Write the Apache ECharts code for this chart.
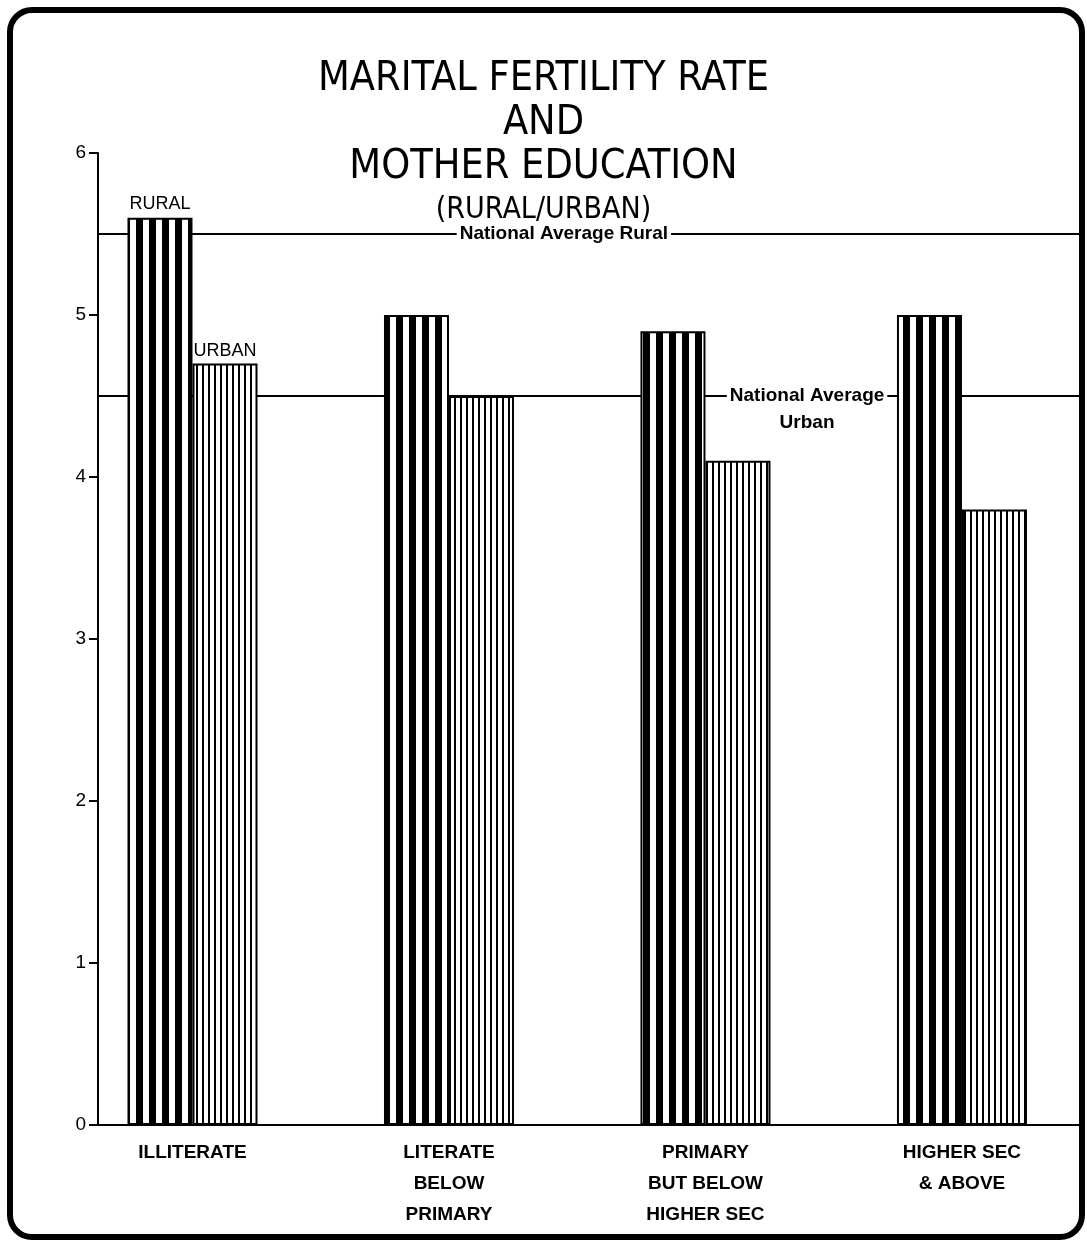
<!DOCTYPE html>
<html><head><meta charset="utf-8">
<script src="https://cdn.jsdelivr.net/npm/echarts@6/dist/echarts.min.js"></script>
<style>html,body{margin:0;padding:0;background:#fff;}#c{width:1087px;height:1244px;}</style>
</head><body><div id="c"></div>
<script>
// ---- data ----
const categories = ['ILLITERATE', 'LITERATE\nBELOW\nPRIMARY', 'PRIMARY\nBUT BELOW\nHIGHER SEC', 'HIGHER SEC\n& ABOVE'];
const categoryIndex = [0, 1, 2, 3];
const rural = [5.6, 5.0, 4.9, 5.0];
const urban = [4.7, 4.5, 4.1, 3.8];
const nationalAverageRural = 5.5;
const nationalAverageUrban = 4.5;
const yTickLabels = ['0', '1', '2', '3', '4', '5', '6'];

function stripes(period, black) {
  const c = document.createElement('canvas');
  c.width = period; c.height = 4;
  const g = c.getContext('2d');
  g.fillStyle = '#fff'; g.fillRect(0, 0, period, 4);
  g.fillStyle = '#000'; g.fillRect(period - black, 0, black, 4);
  return c;
}
const ruralPattern = { image: stripes(13, 7), repeat: 'repeat' };
const urbanPattern = { image: stripes(6, 2), repeat: 'repeat' };

const FONT = "'Liberation Sans', Arial, sans-serif";
const TITLE_FONT = "'Liberation Sans Narrow', 'DejaVu Sans Condensed', 'Liberation Sans', sans-serif";

const chart = echarts.init(document.getElementById('c'), null, { renderer: 'canvas' });
const option = {
  backgroundColor: '#fff',
  animation: false,
  title: [
    {
      text: 'MARITAL FERTILITY RATE\nAND\nMOTHER EDUCATION',
      left: 'center', top: 52,
      textStyle: { fontFamily: TITLE_FONT, fontSize: 41, fontWeight: 'normal', color: '#000', lineHeight: 44, align: 'center' }
    },
    {
      text: '(RURAL/URBAN)',
      left: 'center', top: 190,
      textStyle: { fontFamily: TITLE_FONT, fontSize: 30, fontWeight: 'normal', color: '#000' }
    }
  ],
  grid: { left: 98, right: 5, top: 153, bottom: 119, containLabel: false },
  xAxis: {
    type: 'value',
    min: -0.3684, max: 3.468,
    axisLine: { show: true, onZero: false, lineStyle: { color: '#000', width: 2 } },
    axisTick: { show: false },
    splitLine: { show: false },
    axisLabel: {
      customValues: categoryIndex,
      formatter: v => categories[Math.round(v)],
      fontFamily: FONT, fontSize: 19, fontWeight: 'bold', lineHeight: 31, color: '#000', margin: 12, align: 'center'
    }
  },
  yAxis: {
    type: 'value', min: 0, max: 6, interval: 1,
    axisLine: { show: true, onZero: false, lineStyle: { color: '#000', width: 2 } },
    axisTick: { show: true, length: 9, lineStyle: { color: '#000', width: 2 } },
    splitLine: { show: false },
    axisLabel: { fontFamily: FONT, fontSize: 19, color: '#000', margin: 12, formatter: v => yTickLabels[v] }
  },
  series: [
    {
      name: 'Rural', type: 'bar', z: 3,
      barWidth: 65, barGap: '0%',
      itemStyle: { color: ruralPattern, borderColor: '#000', borderWidth: 2 },
      data: rural.map((v, i) => i === 0
        ? { value: [categoryIndex[i], v], label: { show: true, position: 'top', formatter: 'RURAL', distance: 5, fontFamily: FONT, fontSize: 18, color: '#000' } }
        : { value: [categoryIndex[i], v] })
    },
    {
      name: 'Urban', type: 'bar', z: 3,
      barWidth: 65, barGap: '0%',
      itemStyle: { color: urbanPattern, borderColor: '#000', borderWidth: 2 },
      data: urban.map((v, i) => i === 0
        ? { value: [categoryIndex[i], v], label: { show: true, position: 'top', formatter: 'URBAN', distance: 4, fontFamily: FONT, fontSize: 18, color: '#000' } }
        : { value: [categoryIndex[i], v] })
    },
    {
      name: 'National averages', type: 'scatter', z: 1, data: [],
      markLine: {
        z: 1, silent: true, symbol: 'none', animation: false,
        lineStyle: { color: '#000', width: 2, type: 'solid' },
        label: { show: false },
        data: [{ yAxis: nationalAverageRural }, { yAxis: nationalAverageUrban }]
      },
      markPoint: {
        z: 4, silent: true, symbol: 'rect', symbolSize: 1, animation: false,
        itemStyle: { color: 'rgba(0,0,0,0)' },
        label: { show: true, position: 'inside', fontFamily: FONT, fontSize: 19, fontWeight: 'bold', color: '#000', backgroundColor: '#fff', padding: [2, 3] },
        data: [
          { coord: [1.448, nationalAverageRural], label: { formatter: 'National Average Rural' } },
          { coord: [2.396, nationalAverageUrban], label: { formatter: 'National Average\nUrban', lineHeight: 27, offset: [0, 13] } }
        ]
      }
    }
  ],
  graphic: [
    { type: 'rect', z: 100, silent: true,
      shape: { x: 10, y: 10, width: 1072, height: 1227, r: 22 },
      style: { fill: 'none', stroke: '#000', lineWidth: 6 } }
  ]
};
chart.setOption(option);
</script>
</body></html>
